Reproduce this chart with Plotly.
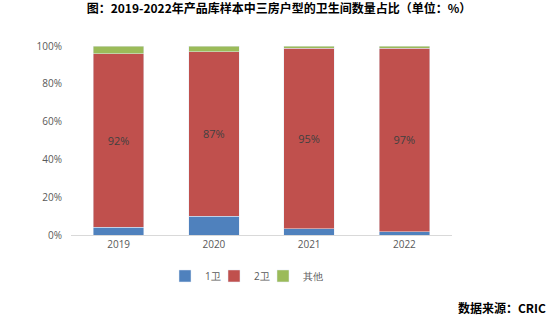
import plotly.graph_objects as go

years = ["2019", "2020", "2021", "2022"]
one_bath = [4.0, 10.0, 3.2, 1.7]
two_bath = [92.0, 87.0, 95.5, 97.2]
other = [4.0, 3.0, 1.3, 1.1]
two_bath_labels = ["92%", "87%", "95%", "97%"]

series_names = ["1卫", "2卫", "其他"]
colors = ["#4F81BD", "#C0504D", "#9BBB59"]

PL, PW = 71, 381  # plot left / width in px


def px_x(px):
    return (px - PL) / PW


fig = go.Figure()
fig.add_trace(go.Bar(x=years, y=one_bath, name=series_names[0], marker_color=colors[0],
                     hoverinfo="skip", legend="legend"))
fig.add_trace(go.Bar(x=years, y=two_bath, name=series_names[1], marker_color=colors[1],
                     text=two_bath_labels, textposition="inside", insidetextanchor="middle",
                     textfont=dict(color="#404040", size=11, family="Open Sans"),
                     hoverinfo="skip", legend="legend2"))
fig.add_trace(go.Bar(x=years, y=other, name=series_names[2], marker_color=colors[2],
                     hoverinfo="skip", legend="legend3"))

leg_common = dict(orientation="h", xanchor="left", y=-0.14, yanchor="top",
                  font=dict(size=10, color="#595959"), itemwidth=30,
                  bgcolor="rgba(0,0,0,0)")
sym_centers = [184, 233, 282]

fig.update_layout(
    barmode="stack",
    bargap=0.47,
    width=558, height=325,
    margin=dict(l=71, r=106, t=46, b=90),
    plot_bgcolor="white", paper_bgcolor="white",
    font=dict(family="Open Sans", size=10, color="#595959"),
    title=dict(text="<b>图：2019-2022年产品库样本中三房户型的卫生间数量占比（单位：%）</b>",
               x=0.5, xanchor="center", y=0.985, yanchor="top",
               font=dict(family="Noto Sans CJK SC", size=12, color="#000000")),
    legend=dict(leg_common, x=px_x(sym_centers[0] - 19)),
    legend2=dict(leg_common, x=px_x(sym_centers[1] - 19)),
    legend3=dict(leg_common, x=px_x(sym_centers[2] - 19)),
    showlegend=True,
    yaxis=dict(range=[0, 100], tickvals=[0, 20, 40, 60, 80, 100],
               ticktext=["0%", "20%", "40%", "60%", "80%", "100%"],
               showgrid=False, zeroline=False, showline=False, ticks="",
               ticklabelstandoff=8),
    xaxis=dict(showline=True, linecolor="#D9D9D9", linewidth=1, ticks="",
               showgrid=False),
    annotations=[dict(text="<b>数据来源：CRIC</b>", xref="paper", yref="paper",
                      x=1.252, xanchor="right", y=-0.386, yanchor="middle",
                      showarrow=False,
                      font=dict(family="Noto Sans CJK SC", size=12, color="#000000"))],
)
fig.write_html("out.html")
